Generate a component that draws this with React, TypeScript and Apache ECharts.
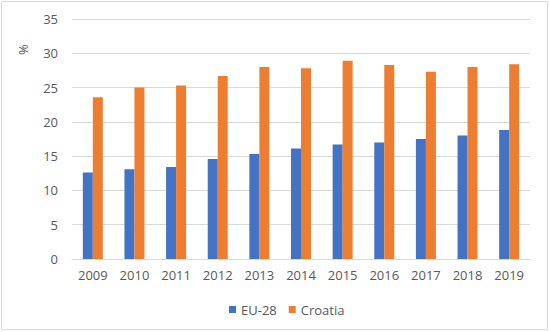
import React, { useEffect, useRef } from "react";
import * as echarts from "echarts";

const years = ["2009", "2010", "2011", "2012", "2013", "2014", "2015", "2016", "2017", "2018", "2019"];
const eu28 = [12.6, 13.1, 13.4, 14.6, 15.3, 16.1, 16.7, 17.0, 17.5, 18.0, 18.8];
const croatia = [23.6, 25.0, 25.3, 26.7, 28.0, 27.8, 28.9, 28.3, 27.3, 28.0, 28.4];
const seriesNames = ["EU-28", "Croatia"];

export default function App() {
  const ref = useRef<HTMLDivElement>(null);
  useEffect(() => {
    if (!ref.current) return;
    const chart = echarts.init(ref.current, undefined, { renderer: "svg" });
    const font = "'Open Sans', 'Noto Sans', sans-serif";
    chart.setOption({
      animation: false,
      backgroundColor: "#ffffff",
      textStyle: { fontFamily: font },
      grid: { left: 72, right: 20, top: 19, bottom: 73 },
      legend: {
        data: seriesNames,
        top: 298,
        left: 224,
        icon: "rect",
        itemWidth: 7,
        itemHeight: 7,
        itemGap: 12,
        itemTextGap: 4,
        textStyle: { color: "#595959", fontSize: 13, fontFamily: font },
      },
      graphic: [
        {
          type: "rect",
          shape: { x: 1.5, y: 1.5, width: 546, height: 328 },
          style: { fill: "none", stroke: "#d9d9d9", lineWidth: 1 },
        },
        {
          type: "text",
          x: 16,
          y: 55,
          rotation: Math.PI / 2,
          style: { text: "%", fill: "#595959", fontSize: 13, fontFamily: font },
        },
      ],
      xAxis: {
        type: "category",
        data: years,
        axisLine: { lineStyle: { color: "#d9d9d9" } },
        axisTick: { show: false },
        axisLabel: { color: "#595959", fontSize: 13, margin: 9, fontFamily: font },
      },
      yAxis: {
        type: "value",
        min: 0,
        max: 35,
        interval: 5,
        axisLine: { show: false },
        axisTick: { show: false },
        splitLine: { lineStyle: { color: "#d9d9d9" } },
        axisLabel: { color: "#595959", fontSize: 13, margin: 14, fontFamily: font },
      },
      series: [
        {
          name: seriesNames[0],
          type: "bar",
          data: eu28,
          barWidth: 10,
          barGap: "0%",
          itemStyle: { color: "#4472C4" },
        },
        {
          name: seriesNames[1],
          type: "bar",
          data: croatia,
          barWidth: 10,
          itemStyle: { color: "#ED7D31" },
        },
      ],
    });
    return () => chart.dispose();
  }, []);
  return (
    <div
      ref={ref}
      style={{ position: "fixed", left: 0, top: 0, width: 550, height: 332 }}
    />
  );
}
